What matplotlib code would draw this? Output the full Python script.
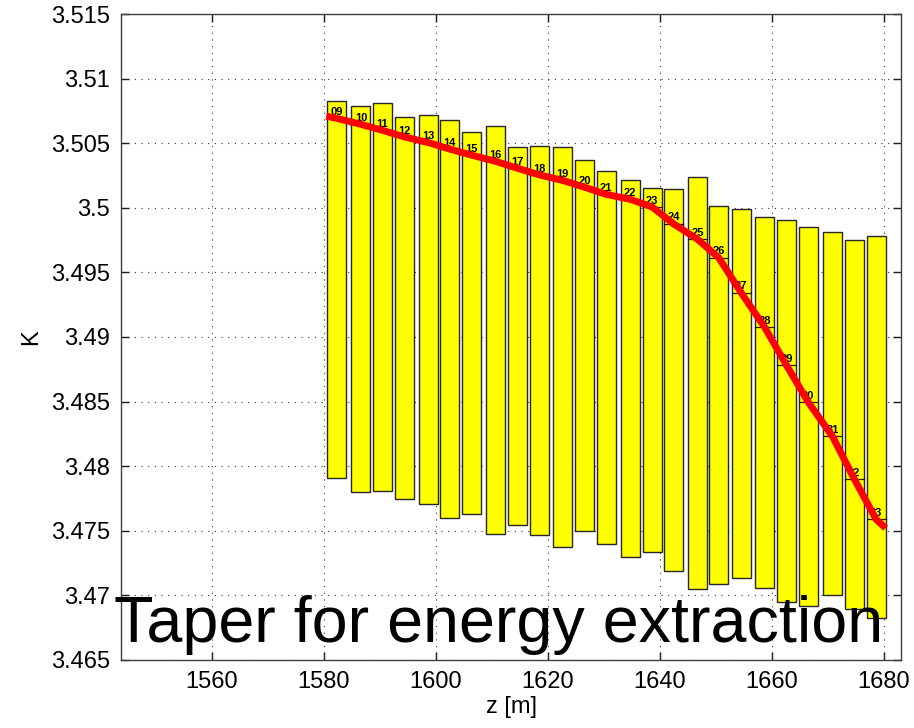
import numpy as np
import matplotlib.pyplot as plt
from matplotlib.ticker import FuncFormatter

plt.rcParams['font.family'] = ['Liberation Sans', 'DejaVu Sans']

# undulator segment numbers and centre positions along z [m]
segments = [9, 10, 11, 12, 13, 14, 15, 16, 17, 18, 19, 20, 21,
            22, 23, 24, 25, 26, 27, 28, 29, 30, 31, 32, 33]
z_center = [1582.2, 1586.6, 1590.4, 1594.4, 1598.7, 1602.4, 1606.3, 1610.6,
            1614.6, 1618.5, 1622.6, 1626.6, 1630.4, 1634.7, 1638.6, 1642.4,
            1646.7, 1650.5, 1654.5, 1658.7, 1662.6, 1666.5, 1670.8, 1674.7,
            1678.6]
seg_length = 3.4

# tolerance window of each segment (top / bottom of yellow box)
k_top = [3.50828, 3.50789, 3.50810, 3.50704, 3.50719, 3.50680, 3.50585,
         3.50634, 3.50474, 3.50481, 3.50469, 3.50371, 3.50283, 3.50218,
         3.50152, 3.50148, 3.50239, 3.50017, 3.49989, 3.49927, 3.49908,
         3.49854, 3.49811, 3.49749, 3.49780]
k_bottom = [3.47910, 3.47800, 3.47810, 3.47743, 3.47709, 3.47601, 3.47627,
            3.47474, 3.47546, 3.47464, 3.47376, 3.47495, 3.47397, 3.47294,
            3.47335, 3.47188, 3.47048, 3.47089, 3.47136, 3.47054, 3.46948,
            3.46917, 3.47000, 3.46891, 3.46822]

# K setting of each segment
k_set = [3.50694, 3.50647, 3.50601, 3.50549, 3.50505, 3.50456, 3.50409,
         3.50361, 3.50306, 3.50255, 3.50213, 3.50159, 3.50105, 3.50066,
         3.50007, 3.49877, 3.49757, 3.49614, 3.49343, 3.49075, 3.48781,
         3.48494, 3.48231, 3.47900, 3.47588]

# taper profile ends
taper_start = (1580.4, 3.5071)
taper_end = (1680.3, 3.4752)

fig = plt.figure(figsize=(9.14, 7.28), dpi=100)
ax = fig.add_axes([0.1324, 0.0937, 0.8534, 0.8868])

ax.bar(z_center, np.array(k_top) - np.array(k_bottom), bottom=k_bottom,
       width=seg_length, color='yellow', edgecolor='0.15', linewidth=1.0,
       zorder=2)

for n, z, k in zip(segments, z_center, k_set):
    ax.plot([z - seg_length / 2, z + seg_length / 2], [k, k],
            color='0.1', linewidth=0.9, zorder=3)
    ax.text(z, k + 0.0001, f'{n:02d}', ha='center', va='bottom',
            fontsize=8, fontweight='bold', zorder=4)

taper_z = [taper_start[0]] + z_center + [taper_end[0]]
taper_k = [taper_start[1]] + k_set + [taper_end[1]]
ax.plot(taper_z, taper_k, color='red', linewidth=5, zorder=5,
        solid_capstyle='butt')

ax.set_xlim(1543.75, 1683.05)
ax.set_ylim(3.465, 3.515)
ax.set_xticks([1560, 1580, 1600, 1620, 1640, 1660, 1680])
ax.set_yticks(np.arange(3.465, 3.5151, 0.005))
ax.yaxis.set_major_formatter(FuncFormatter(lambda v, p: f'{v:.3f}'.rstrip('0').rstrip('.')))

ax.grid(True, linestyle=(0, (1, 5)), color='0.2', linewidth=0.8)
ax.set_axisbelow(True)
ax.tick_params(direction='in', length=6, width=1, top=True, right=True,
               labelsize=17, pad=8, color='0.1')
for s in ax.spines.values():
    s.set_linewidth(1.0)
    s.set_color('0.25')

ax.set_xlabel('z [m]', fontsize=17, labelpad=2)
ax.set_ylabel('K', fontsize=17, labelpad=6)

fig.text(0.125, (728 - 642) / 728, 'Taper for energy extraction',
         fontsize=46.5, ha='left', va='baseline', zorder=10)

fig.savefig('out.png', dpi=100)
